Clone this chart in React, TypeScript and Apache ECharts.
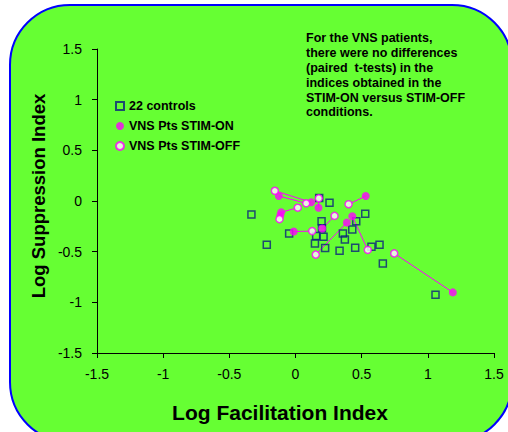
import React, { useEffect, useRef } from "react";
import * as echarts from "echarts";

const FONT = '"Liberation Sans", Arial, Helvetica, sans-serif';

// Controls (log facilitation index, log suppression index)
const controlFac = [-0.333, -0.217, -0.048, 0.179, 0.257, 0.527, 0.197, 0.459, 0.429, 0.358, 0.373, 0.212, 0.156, 0.147, 0.224, 0.333, 0.451, 0.574, 0.635, 0.66, 1.058, 0.2];
const controlSup = [-0.134, -0.431, -0.321, 0.029, -0.017, -0.125, -0.199, -0.199, -0.281, -0.321, -0.379, -0.353, -0.346, -0.419, -0.464, -0.49, -0.461, -0.451, -0.431, -0.618, -0.925, -0.27];

// VNS patients, paired by index
const onFac = [-0.126, 0.119, 0.174, -0.108, -0.115, -0.013, 0.202, 0.388, 0.429, 0.531, 1.189];
const onSup = [0.049, -0.013, -0.066, -0.111, -0.142, -0.301, -0.272, -0.213, -0.15, 0.049, -0.902];
const offFac = [0.081, -0.156, 0.176, 0.017, -0.121, 0.126, 0.295, 0.153, 0.546, 0.401, 0.746];
const offSup = [-0.023, 0.101, 0.026, -0.066, -0.179, -0.297, -0.147, -0.529, -0.483, -0.032, -0.517];

const seriesNames = ["22 controls", "VNS Pts STIM-ON", "VNS Pts STIM-OFF"];
const noteLines = [
  "For the VNS patients,",
  "there were no differences",
  "(paired  t-tests) in the",
  "indices obtained in the",
  "STIM-ON versus STIM-OFF",
  "conditions.",
];
const xTitle = "Log Facilitation Index";
const yTitle = "Log Suppression Index";

export default function App() {
  const ref = useRef<HTMLDivElement>(null);
  useEffect(() => {
    if (!ref.current) return;
    const chart = echarts.init(ref.current, undefined, { renderer: "svg" });
    const axisCommon = {
      type: "value",
      min: -1.5,
      max: 1.5,
      interval: 0.5,
      splitLine: { show: false },
      axisLine: { show: true, onZero: false, lineStyle: { color: "#000", width: 1 } },
      axisTick: { show: true, length: 5, lineStyle: { color: "#000", width: 1 } },
    };
    const pairLines = onFac.map((x, i) => ({
      type: "line",
      data: [
        [x, onSup[i]],
        [offFac[i], offSup[i]],
      ],
      symbol: "none",
      silent: true,
      lineStyle: { color: "#ff00ff", width: 1 },
      z: 2,
    }));
    const option: any = {
      animation: false,
      textStyle: { fontFamily: FONT },
      graphic: {
        elements: [
          {
            type: "rect",
            z: -10,
            silent: true,
            shape: { x: 10, y: 5, width: 502, height: 437, r: 60 },
            style: { fill: "#66ff33", stroke: "#0000ff", lineWidth: 2 },
          },
          {
            type: "text",
            x: 38,
            y: 196,
            rotation: Math.PI / 2,
            z: 100,
            style: {
              text: yTitle,
              font: `bold 18.5px ${FONT}`,
              fill: "#000",
              align: "center",
              verticalAlign: "middle",
              textAlign: "center",
              textVerticalAlign: "middle",
            },
          },
          {
            type: "text",
            x: 280,
            y: 412,
            z: 100,
            style: {
              text: xTitle,
              font: `bold 21px ${FONT}`,
              fill: "#000",
              align: "center",
              verticalAlign: "middle",
              textAlign: "center",
              textVerticalAlign: "middle",
            },
          },
          {
            type: "text",
            x: 306,
            y: 31,
            z: 100,
            style: {
              text: noteLines.join("\n"),
              font: `bold 12.5px ${FONT}`,
              lineHeight: 14.8,
              fill: "#000",
              align: "left",
              verticalAlign: "top",
              textAlign: "left",
              textVerticalAlign: "top",
            },
          },
        ],
      },
      grid: { left: 97, right: 14, top: 49, bottom: 79, containLabel: false },
      xAxis: {
        ...axisCommon,
        axisLabel: { color: "#000", fontSize: 14, margin: 14, fontFamily: FONT },
      },
      yAxis: {
        ...axisCommon,
        axisLabel: { color: "#000", fontSize: 14, margin: 15, fontFamily: FONT },
      },
      legend: {
        orient: "vertical",
        left: 110,
        top: 94,
        itemWidth: 8,
        itemHeight: 8,
        itemGap: 6,
        textStyle: { fontSize: 12.5, fontWeight: "bold", color: "#000", lineHeight: 14, fontFamily: FONT },
        data: [
          { name: seriesNames[0], icon: "rect" },
          { name: seriesNames[1], icon: "circle" },
          { name: seriesNames[2], icon: "circle" },
        ],
      },
      series: [
        {
          type: "scatter",
          name: seriesNames[0],
          symbol: "rect",
          symbolSize: 7,
          itemStyle: { color: "rgba(0,0,0,0)", borderColor: "#0b1f80", borderWidth: 1.5 },
          data: controlFac.map((x, i) => [x, controlSup[i]]),
        },
        ...pairLines,
        {
          type: "scatter",
          name: seriesNames[1],
          symbol: "circle",
          symbolSize: 8,
          itemStyle: { color: "#ff00ff" },
          data: onFac.map((x, i) => [x, onSup[i]]),
        },
        {
          type: "scatter",
          name: seriesNames[2],
          symbol: "circle",
          symbolSize: 7,
          itemStyle: { color: "#ffffff", borderColor: "#ff00ff", borderWidth: 1.5 },
          data: offFac.map((x, i) => [x, offSup[i]]),
        },
      ],
    };
    chart.setOption(option);
    return () => chart.dispose();
  }, []);
  return (
    <div
      ref={ref}
      style={{ position: "fixed", left: 0, top: 0, width: 508, height: 432, background: "#fff" }}
    />
  );
}
